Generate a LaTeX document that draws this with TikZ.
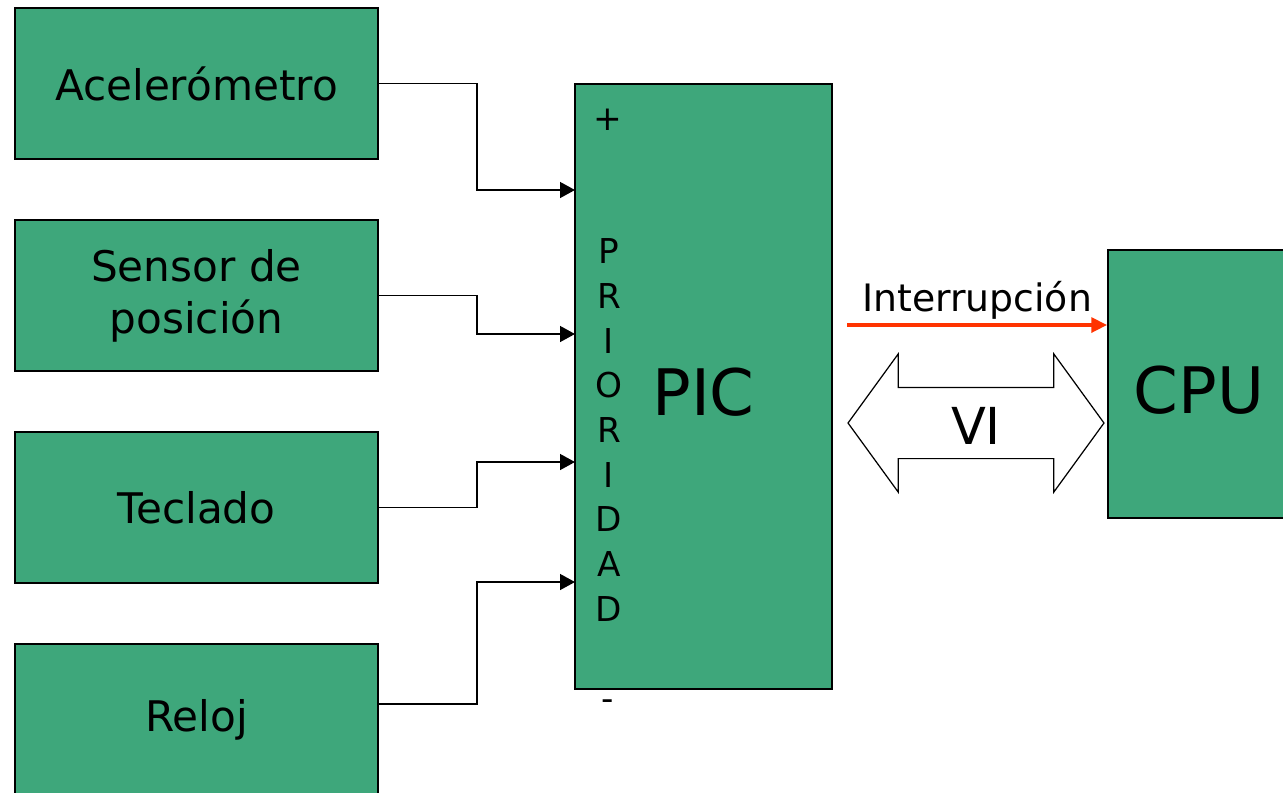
\documentclass[tikz,border=0pt]{standalone}
\usepackage{fontspec}
\setmainfont{DejaVu Sans}
\usepackage{xcolor}
\usetikzlibrary{arrows.meta, shapes.arrows, calc}

\definecolor{picgreen}{RGB}{62,167,123}
\definecolor{intred}{RGB}{255,51,0}

\begin{document}
\begin{tikzpicture}[
        x=0.02cm, y=-0.02cm,
        >={Triangle[length=8.5pt, width=9pt]},
        line width=1pt,
        block/.style={
            draw=black,
            fill=picgreen,
            line width=1.1pt,
            align=center,
            inner sep=0pt
        },
        srcbox/.style={
            block,
            minimum width=7.26cm,
            minimum height=3.02cm,
            font=\fontsize{24}{29.5}\selectfont
        },
        bigtxt/.style={font=\fontsize{36.5}{40}\selectfont, text depth=0pt},
        prio/.style={font=\fontsize{19.5}{25.4}\selectfont, align=center, inner sep=0pt},
        wire/.style={->, line width=1pt}
    ]

        \useasboundingbox (0,0) rectangle (1283,792);

        % fuentes de interrupcion
        \node[srcbox] (acel)    at (196.5,83.5)  {Acelerómetro};
        \node[srcbox] (sensor)  at (196.5,295.5) {Sensor de\\posición};
        \node[srcbox] (teclado) at (196.5,507.5) {Teclado};
        \node[srcbox] (reloj)   at (196.5,719.5) {Reloj};

        % controlador y cpu
        \node[block, bigtxt, text height=1.14cm, minimum width=5.14cm, minimum height=12.1cm] (pic) at (703.5,386.5) {PIC};
        \node[block, bigtxt, text height=1.18cm, minimum width=3.64cm, minimum height=5.36cm] (cpu) at (1199,384) {CPU};

        \node[prio] (prioTxt) at (609,430) {P\\R\\I\\O\\R\\I\\D\\A\\D};
        \node[prio] (plus)  at (608,120) {+};
        \node[prio] (minus) at (608,705) {-};

        \coordinate (in1) at (575,190);
        \coordinate (in2) at (575,334);
        \coordinate (in3) at (575,462);
        \coordinate (in4) at (575,582);

        \draw[wire] (acel.east) -- ++(98,0) |- (in1);
        \draw[wire] (sensor.east) -- ++(98,0) |- (in2);
        \draw[wire] (teclado.east) -- ++(98,0) |- (in3);
        \draw[wire] ([yshift=0.31cm]reloj.east) -- ++(98,0) |- (in4);

        % linea de interrupcion
        \coordinate (intStart) at (847,325);
        \draw[->, intred, line width=2pt, >={Triangle[length=9pt, width=8.5pt]}]
            (intStart) -- (cpu.west |- intStart)
            node[midway, above, inner sep=2pt, text=black, font=\fontsize{21.5}{24}\selectfont] (intLbl) {Interrupción};

        % bus VI
        \node[double arrow, draw=black, fill=white, line width=0.7pt,
              minimum height=5.12cm, double arrow head extend=0.67cm,
              double arrow tip angle=108, inner sep=0pt,
              text height=1.12cm, text depth=0.28cm,
              font=\fontsize{29}{32}\selectfont] (vi) at (976,423) {VI};

    \end{tikzpicture}
\end{document}
